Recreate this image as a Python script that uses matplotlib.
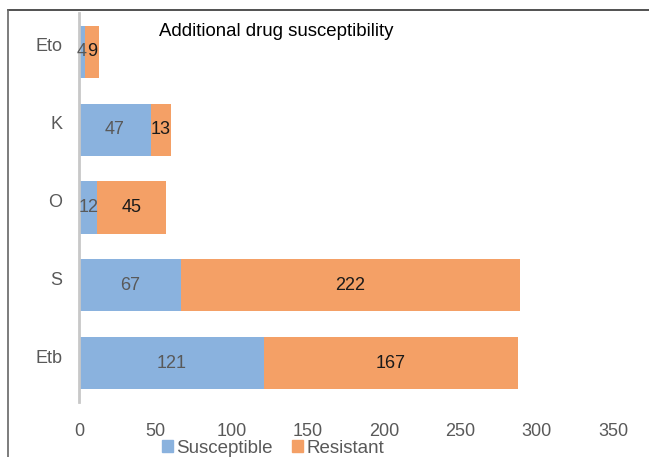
import numpy as np
import matplotlib.pyplot as plt
import matplotlib.transforms as mtransforms
from matplotlib.lines import Line2D
from matplotlib.patches import Patch

# Data (bottom to top)
categories = ["Etb", "S", "O", "K", "Eto"]
susceptible = [121, 67, 12, 47, 4]
resistant = [167, 222, 45, 13, 9]
x_ticks = [0, 50, 100, 150, 200, 250, 300, 350]

blue = '#8ab2de'
orange = '#f4a066'
grey_text = '#595959'

plt.rcParams['font.family'] = ['Liberation Sans', 'DejaVu Sans']

fig = plt.figure(figsize=(6.49, 4.57), dpi=100)
ax = fig.add_axes([79 / 649, 1 - 402 / 457, 534 / 649, 389 / 457])

y = np.arange(len(categories))
ax.barh(y, susceptible, height=0.67, color=blue)
ax.barh(y, resistant, left=susceptible, height=0.67, color=orange)

# value labels inside segments
for i in range(len(categories)):
    ax.text(susceptible[i] / 2, y[i], str(susceptible[i]), ha='center', va='center',
            fontsize=13, color=grey_text)
    ax.text(susceptible[i] + resistant[i] / 2, y[i], str(resistant[i]), ha='center',
            va='center', fontsize=13, color='#1a1a1a')

ax.set_xlim(0, 350)
ax.set_ylim(-0.5, 4.5)
ax.set_xticks(x_ticks)
ax.set_yticks(y)
ax.set_yticklabels(categories)
ax.tick_params(axis='both', length=0, labelsize=13, labelcolor=grey_text)
ax.tick_params(axis='x', pad=15)
ax.tick_params(axis='y', pad=12)
# category labels sit a little above bar centres in the original
shift = mtransforms.ScaledTranslation(0, 7 / 100, fig.dpi_scale_trans)
for lab in ax.get_yticklabels():
    lab.set_transform(lab.get_transform() + shift)
for side in ['top', 'right', 'bottom']:
    ax.spines[side].set_visible(False)
ax.spines['left'].set_color('#c8c8c8')
ax.spines['left'].set_linewidth(2)

fig.text(159 / 649, 1 - 31 / 457, "Additional drug susceptibility", fontsize=13.4,
         color='black', va='center', ha='left')

# legend
handles = [Patch(color=blue, label='Susceptible'), Patch(color=orange, label='Resistant')]
fig.legend(handles=handles, loc='center', bbox_to_anchor=(273 / 649, 1 - 448.5 / 457),
           ncol=2, frameon=False, fontsize=13.5, handlelength=0.6, handleheight=0.6,
           handletextpad=0.2, columnspacing=1.0, labelcolor=grey_text,
           borderpad=0.1)

# outer frame (top and left only)
fig.add_artist(Line2D([8 / 649, 1], [1 - 10 / 457, 1 - 10 / 457], color='#333333', lw=1.2,
                      transform=fig.transFigure))
fig.add_artist(Line2D([8 / 649, 8 / 649], [1 - 10 / 457, 0], color='#666666', lw=1.2,
                      transform=fig.transFigure))

fig.savefig('out.png', dpi=100)
